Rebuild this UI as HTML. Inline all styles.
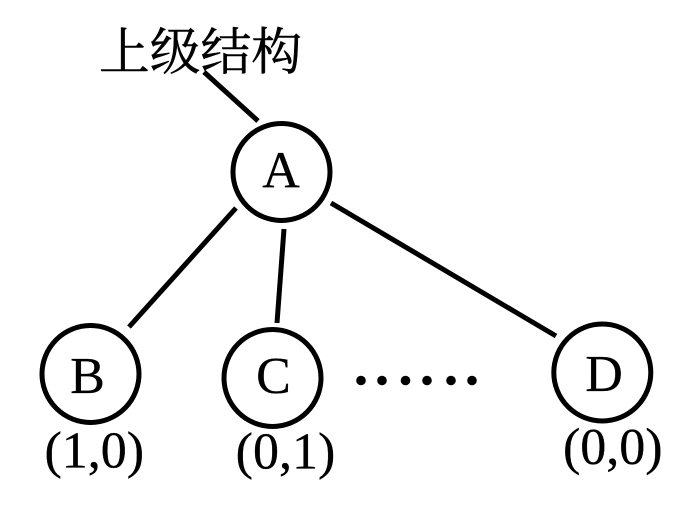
<!DOCTYPE html>
<html>
<head>
<meta charset="utf-8">
<style>
html,body{margin:0;padding:0;background:#fff;width:700px;height:514px;overflow:hidden}
svg{display:block}
text{fill:#000}
</style>
</head>
<body>
<svg width="700" height="514" viewBox="0 0 700 514" xmlns="http://www.w3.org/2000/svg">
<g fill="none" stroke="#000" stroke-width="5">
<circle cx="281.5" cy="172" r="48.5"/>
<circle cx="90.5" cy="374" r="48.5"/>
<circle cx="272.5" cy="378" r="48.5"/>
<circle cx="602.3" cy="372.5" r="48.5"/>
<line x1="204" y1="72" x2="258" y2="121"/>
<line x1="236" y1="208" x2="129" y2="327"/>
<line x1="284" y1="229" x2="277" y2="323"/>
<line x1="331" y1="203" x2="556" y2="336"/>
</g>
<g fill="#000">
<circle cx="361" cy="380.5" r="4.8"/>
<circle cx="382" cy="380.5" r="4.8"/>
<circle cx="405.5" cy="380.5" r="4.8"/>
<circle cx="427" cy="380.5" r="4.8"/>
<circle cx="451" cy="380.5" r="4.8"/>
<circle cx="472" cy="380.5" r="4.8"/>
</g>
<text x="99" y="69.5" font-family="'Noto Serif CJK SC','Noto Sans CJK SC',serif" font-size="50.5" textLength="203" lengthAdjust="spacingAndGlyphs" stroke="#000" stroke-width="0.5">上级结构</text>
<g font-family="'Liberation Serif',serif" font-size="52" text-anchor="middle" stroke="#000" stroke-width="0.3">
<text x="281" y="187.5">A</text>
<text x="87.5" y="393">B</text>
<text x="273.5" y="393">C</text>
<text x="604" y="391">D</text>
<text x="94.3" y="467.5">(1,0)</text>
<text x="285.5" y="468.5">(0,1)</text>
<text x="612.8" y="464">(0,0)</text>
</g>
</svg>
</body>
</html>
